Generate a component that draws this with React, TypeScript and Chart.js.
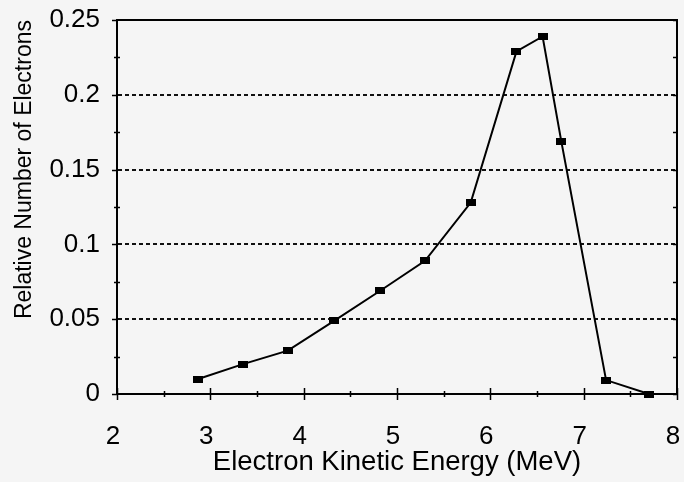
import React, { useEffect, useRef } from "react";
import { Chart, registerables } from "chart.js";

Chart.register(...registerables);

// ---- data ----
const energyMeV = [2.87, 3.35, 3.83, 4.33, 4.82, 5.3, 5.79, 6.28, 6.56, 6.76, 7.24, 7.7];
const relativeElectrons = [0.01, 0.02, 0.029, 0.049, 0.069, 0.089, 0.128, 0.229, 0.239, 0.169, 0.0093, 0.0];
const xTickLabels = ["2", "3", "4", "5", "6", "7", "8"];
const yTickLabels = ["0", "0.05", "0.1", "0.15", "0.2", "0.25"];
const xAxisTitle = "Electron Kinetic Energy (MeV)";
const yAxisTitle = "Relative Number of Electrons";

const FONT = "'Liberation Sans', Arial, Helvetica, sans-serif";
const BG = "#f5f5f5";

export default function App() {
  const ref = useRef<HTMLCanvasElement>(null);

  useEffect(() => {
    if (!ref.current) return;
    const marker = document.createElement("canvas");
    marker.width = 10;
    marker.height = 7;
    const mctx = marker.getContext("2d")!;
    mctx.fillStyle = "#000";
    mctx.fillRect(0, 0, 10, 7);

    const xMin = Number(xTickLabels[0]);
    const xMax = Number(xTickLabels[xTickLabels.length - 1]);
    const yMin = Number(yTickLabels[0]);
    const yMax = Number(yTickLabels[yTickLabels.length - 1]);

    const framePlugin = {
      id: "frame",
      beforeDraw(chart: any) {
        const { ctx, width, height } = chart;
        ctx.save();
        ctx.fillStyle = BG;
        ctx.fillRect(0, 0, width, height);
        ctx.restore();
      },
      afterDraw(chart: any) {
        const { ctx, chartArea: a, scales } = chart;
        const xs = scales.x;
        const ys = scales.y;
        ctx.save();
        ctx.strokeStyle = "#000";
        ctx.lineWidth = 2;
        ctx.beginPath();
        ctx.moveTo(a.left, a.top);
        ctx.lineTo(a.right, a.top);
        ctx.lineTo(a.right, a.bottom);
        ctx.stroke();

        ctx.lineWidth = 1.5;
        ctx.beginPath();
        const xStep = (xMax - xMin) / (xTickLabels.length - 1) / 2;
        for (let i = 0; i <= (xTickLabels.length - 1) * 2; i++) {
          const v = xMin + i * xStep;
          const px = Math.round(xs.getPixelForValue(v)) + 0.5;
          const len = i % 2 === 0 ? 6 : 3;
          ctx.moveTo(px, a.bottom - len);
          ctx.lineTo(px, a.bottom + len);
        }
        const yStep = (yMax - yMin) / (yTickLabels.length - 1) / 2;
        for (let i = 0; i <= (yTickLabels.length - 1) * 2; i++) {
          const v = yMin + i * yStep;
          const py = Math.round(ys.getPixelForValue(v)) + 0.5;
          if (i % 2 === 0) {
            ctx.moveTo(a.left - 5, py);
            ctx.lineTo(a.left + 1, py);
          } else {
            ctx.moveTo(a.left - 3, py);
            ctx.lineTo(a.left + 3, py);
          }
          ctx.moveTo(a.right - 4, py);
          ctx.lineTo(a.right + 1, py);
        }
        ctx.stroke();
        ctx.restore();
      },
    };

    const chart = new Chart(ref.current, {
      type: "line",
      data: {
        datasets: [
          {
            data: energyMeV.map((x, i) => ({ x, y: relativeElectrons[i] })),
            borderColor: "#000",
            borderWidth: 2,
            pointStyle: marker as any,
            pointRadius: 5,
            pointBackgroundColor: "#000",
            tension: 0,
            clip: false as any,
          },
        ],
      },
      options: {
        animation: false,
        responsive: false,
        devicePixelRatio: 1,
        layout: { padding: { left: 0, right: 3, top: 20, bottom: 0 } },
        plugins: { legend: { display: false }, tooltip: { enabled: false } },
        scales: {
          x: {
            type: "linear",
            min: xMin,
            max: xMax,
            afterBuildTicks: (scale: any) => {
              scale.ticks = xTickLabels.map((l) => ({ value: Number(l) }));
            },
            afterFit: (scale: any) => {
              scale.height = 88;
              scale.paddingLeft = 0;
              scale.paddingRight = 0;
              scale.paddingTop = 0;
              scale.paddingBottom = 0;
            },
            ticks: {
              color: "#000",
              font: { family: FONT, size: 26 },
              padding: 27,
              labelOffset: -4,
              maxRotation: 0,
              callback: (_v: any, i: number) => xTickLabels[i],
            },
            grid: { display: false, drawTicks: false },
            border: { display: true, color: "#000", width: 2 },
            title: {
              display: true,
              text: xAxisTitle,
              color: "#000",
              font: { family: FONT, size: 27.5 },
              padding: { top: 0, bottom: 3 },
            },
          },
          y: {
            type: "linear",
            min: yMin,
            max: yMax,
            afterBuildTicks: (scale: any) => {
              scale.ticks = yTickLabels.map((l) => ({ value: Number(l) }));
            },
            afterFit: (scale: any) => {
              scale.width = 117;
              scale.paddingLeft = 0;
              scale.paddingRight = 0;
              scale.paddingTop = 0;
              scale.paddingBottom = 0;
            },
            ticks: {
              color: "#000",
              font: { family: FONT, size: 26 },
              padding: 17,
              callback: (_v: any, i: number) => yTickLabels[i],
            },
            grid: {
              drawTicks: false,
              lineWidth: 2,
              color: (c: any) =>
                c.index === 0 || c.index === yTickLabels.length - 1 ? "rgba(0,0,0,0)" : "#111",
            },
            border: { display: true, color: "#000", width: 2, dash: [4, 3] },
            title: {
              display: true,
              text: yAxisTitle,
              color: "#000",
              align: "end",
              font: { family: FONT, size: 23 },
              padding: { top: 11, bottom: 0 },
            },
          },
        },
      },
      plugins: [framePlugin],
    });
    return () => chart.destroy();
  }, []);

  return (
    <div style={{ position: "fixed", left: 0, top: 0, width: 684, height: 482, background: BG }}>
      <canvas ref={ref} width={684} height={482} style={{ display: "block" }} />
    </div>
  );
}
